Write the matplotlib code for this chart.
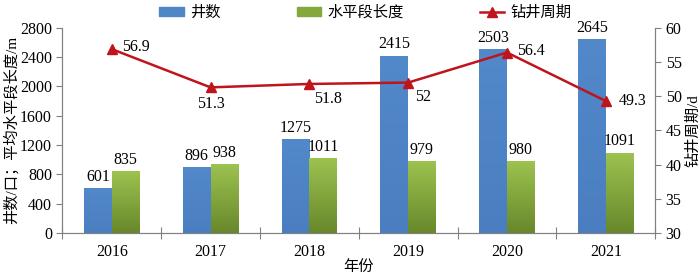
import numpy as np
import matplotlib.pyplot as plt
from matplotlib.lines import Line2D
from matplotlib.patches import Patch

plt.rcParams['font.family'] = ['Liberation Serif', 'Noto Sans CJK SC']

years = ['2016', '2017', '2018', '2019', '2020', '2021']
wells = [601, 896, 1275, 2415, 2503, 2645]
lateral = [835, 938, 1011, 979, 980, 1091]
cycle = [56.9, 51.3, 51.8, 52, 56.4, 49.3]
cycle_labels = ['56.9', '51.3', '51.8', '52', '56.4', '49.3']

fs = 11.5
fig = plt.figure(figsize=(7, 2.79), dpi=100)
ax = fig.add_axes([0.089, 0.165, 0.847, 0.735])
ax2 = ax.twinx()

x = np.arange(len(years))
w = 0.28


def grad_bar(ax, xc, h, top, bottom):
    # vertical gradient inside a bar
    g = np.linspace(0, 1, 64).reshape(-1, 1)
    c0 = np.array(plt.matplotlib.colors.to_rgb(bottom))
    c1 = np.array(plt.matplotlib.colors.to_rgb(top))
    img = c0 + (c1 - c0) * g[..., None]
    ax.imshow(img, extent=(xc - w / 2, xc + w / 2, 0, h), origin='lower',
              aspect='auto', zorder=2, interpolation='bilinear')


for i in range(len(years)):
    grad_bar(ax, x[i] - w / 2, wells[i], '#5289CA', '#4A7EC0')
    grad_bar(ax, x[i] + w / 2, lateral[i], '#9CC24F', '#68882B')
    ax.text(x[i] - w / 2, wells[i] + 50, str(wells[i]), ha='center', va='bottom', fontsize=fs)
    ax.text(x[i] + w / 2, lateral[i] + 50, str(lateral[i]), ha='center', va='bottom', fontsize=fs)

ax.set_xlim(-0.5, 5.5)
ax.set_ylim(0, 2800)
ax.set_yticks(range(0, 2801, 400))
ax.set_xticks(np.arange(-0.5, 6, 1))
ax.set_xticklabels([])
ax.set_xticks(x, minor=True)
ax.set_xticklabels(years, minor=True)
ax.tick_params(axis='x', which='minor', length=0, labelsize=fs, pad=8)
ax.tick_params(axis='x', which='major', length=8, direction='inout', color='#808080')
ax.tick_params(axis='y', labelsize=fs, color='#808080', length=4)
ax.set_ylabel('井数/口；平均水平段长度/m', fontsize=11, labelpad=1)
ax.set_xlabel('年份', fontsize=11, labelpad=0)

ax2.plot(x, cycle, color='#C0141C', lw=1.8, marker='^', ms=7, zorder=5)
ax2.set_ylim(30, 60)
ax2.set_yticks(range(30, 61, 5))
ax2.tick_params(axis='y', labelsize=fs, color='#808080', length=4)
ax2.set_ylabel('钻井周期/d', fontsize=11, rotation=90, labelpad=3)

offsets = [(0.1, 0.3, 'left', 'center'), (0, -1.2, 'center', 'top'),
           (0.05, -1.0, 'left', 'top'), (0.07, -1.0, 'left', 'top'),
           (0.1, 0.2, 'left', 'center'), (0.13, 0, 'left', 'center')]
for i, (dx, dy, ha, va) in enumerate(offsets):
    ax2.text(x[i] + dx, cycle[i] + dy, cycle_labels[i], ha=ha, va=va, fontsize=fs)

for a in (ax, ax2):
    a.spines['top'].set_visible(False)
    for s in ('left', 'right', 'bottom'):
        a.spines[s].set_color('#808080')

handles = [Patch(color='#4F86C6'), Patch(color='#84A83C'),
           Line2D([0], [0], color='#C0141C', lw=1.8, marker='^', ms=7)]
fig.legend(handles, ['井数', '水平段长度', '钻井周期'], loc='upper center',
           bbox_to_anchor=(0.522, 1.03), ncol=3, frameon=False, fontsize=11,
           columnspacing=5.0, handlelength=1.6, handleheight=0.5, handletextpad=0.4)

fig.savefig('out.png', dpi=100)
